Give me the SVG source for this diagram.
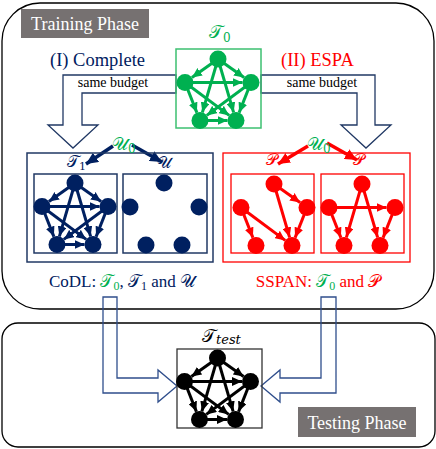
<svg xmlns="http://www.w3.org/2000/svg" width="436" height="449" viewBox="0 0 436 449">
<style>
text{font-family:"Liberation Serif","Times New Roman",serif}
.scr{font-family:"DejaVu Serif","DejaVu Sans","Noto Sans",serif}
.ge path{stroke:#00B050;stroke-width:3;fill:none;marker-end:url(#ag)}
.ne path{stroke:#002060;stroke-width:3;fill:none;marker-end:url(#an)}
.re path{stroke:#FF0000;stroke-width:3;fill:none;marker-end:url(#ar)}
.ke path{stroke:#000;stroke-width:3;fill:none;marker-end:url(#ak)}
.blk{fill:#fff;stroke:#203864;stroke-width:1.3}
.blk2{fill:none;stroke:#2F4E8C;stroke-width:1.3}
</style>
<defs>
<marker id="ag" markerUnits="userSpaceOnUse" markerWidth="10" markerHeight="9" refX="10" refY="4.5" orient="auto"><path d="M0,0L10,4.5L0,9z" fill="#00B050"/></marker>
<marker id="an" markerUnits="userSpaceOnUse" markerWidth="10" markerHeight="9" refX="10" refY="4.5" orient="auto"><path d="M0,0L10,4.5L0,9z" fill="#002060"/></marker>
<marker id="ar" markerUnits="userSpaceOnUse" markerWidth="10" markerHeight="9" refX="10" refY="4.5" orient="auto"><path d="M0,0L10,4.5L0,9z" fill="#FF0000"/></marker>
<marker id="ak" markerUnits="userSpaceOnUse" markerWidth="10" markerHeight="9" refX="10" refY="4.5" orient="auto"><path d="M0,0L10,4.5L0,9z" fill="#000"/></marker>
<marker id="an2" markerUnits="userSpaceOnUse" markerWidth="12" markerHeight="11" refX="12" refY="5.5" orient="auto"><path d="M0,0L12,5.5L0,11z" fill="#002060"/></marker>
<marker id="ar2" markerUnits="userSpaceOnUse" markerWidth="12" markerHeight="11" refX="12" refY="5.5" orient="auto"><path d="M0,0L12,5.5L0,11z" fill="#FF0000"/></marker>
</defs>

<!-- phase frames -->
<g id="training-phase">
<rect x="2" y="3" width="432" height="306" rx="38" fill="none" stroke="#000" stroke-width="1.3"/>
<rect x="21" y="9" width="128" height="29" fill="#767171"/>
<text x="85" y="30" font-size="18" fill="#fff" text-anchor="middle">Training Phase</text>
</g>
<g id="testing-phase">
<rect x="2" y="323" width="433" height="124" rx="16" fill="none" stroke="#000" stroke-width="1.3"/>
<rect x="298" y="407" width="118" height="30" fill="#767171"/>
<text x="357" y="429" font-size="18" fill="#fff" text-anchor="middle">Testing Phase</text>
</g>

<!-- connectors -->
<g id="connectors">
<path class="blk" d="M176,75L63,75L63,125L48,125L73,148L98,125L82,125L82,93L176,93Z"/>
<path class="blk" d="M261,75L375,75L375,125L391,125L366,148L341,125L357,125L357,93L261,93Z"/>
<path class="blk2" d="M103,297L117,297L117,378L158,378L158,370L177,386L158,402L158,393L103,393Z"/>
<path class="blk2" d="M336,297L321,297L321,378L280,378L280,370L261,386L280,402L280,393L336,393Z"/>
<line x1="113" y1="146" x2="86" y2="164" stroke="#002060" stroke-width="3.5" marker-end="url(#an2)"/>
<line x1="132" y1="145" x2="162" y2="162" stroke="#002060" stroke-width="3.5" marker-end="url(#an2)"/>
<line x1="308" y1="146" x2="278" y2="164" stroke="#FF0000" stroke-width="3.5" marker-end="url(#ar2)"/>
<line x1="327" y1="143" x2="357" y2="160" stroke="#FF0000" stroke-width="3.5" marker-end="url(#ar2)"/>
</g>
<text x="113" y="87" font-size="14" text-anchor="middle">same budget</text>
<text x="322" y="87" font-size="14" text-anchor="middle">same budget</text>
<text x="50" y="66" font-size="18.5" fill="#002060">(I) Complete</text>
<text x="281" y="66" font-size="18.5" fill="#FF0000">(II) ESPA</text>

<!-- T0 graph -->
<g id="T0">
<rect x="176" y="49" width="85" height="79" fill="none" stroke="#3CC070" stroke-width="1.5"/>
<text x="209" y="38" font-size="18" fill="#00B050" class="scr">𝒯<tspan font-size="12" dy="4">0</tspan></text>
<g transform="translate(218,59)">
<g class="ge">
<path d="M0,0L-26.08,18.57"/><path d="M0,0L26.08,18.57"/><path d="M-33,23.5L24.5,23.5"/><path d="M-33,23.5L-21.12,53.59"/><path d="M33,23.5L21.12,53.59"/><path d="M-18,61.5L9.5,61.5"/><path d="M0,0L-15.61,53.34"/><path d="M0,0L15.61,53.34"/><path d="M-33,23.5L11.18,56.42"/><path d="M33,23.5L-11.18,56.42"/>
</g>
<g fill="#00B050"><circle cx="0" cy="0" r="8.5"/><circle cx="-33" cy="23.5" r="8.5"/><circle cx="33" cy="23.5" r="8.5"/><circle cx="-18" cy="61.5" r="8.5"/><circle cx="18" cy="61.5" r="8.5"/></g>
</g>
</g>

<!-- CoDL panel -->
<g id="codl">
<rect x="27" y="153" width="186" height="109" fill="none" stroke="#203864" stroke-width="1.5"/>
<rect x="34" y="174" width="83" height="79" fill="none" stroke="#203864" stroke-width="1.5"/>
<rect x="123" y="174" width="84" height="79" fill="none" stroke="#203864" stroke-width="1.5"/>
<text x="112" y="150" font-size="18" fill="#00B050" class="scr">𝒰<tspan font-size="12" dy="3">0</tspan></text>
<text x="67" y="167" font-size="16" fill="#002060" class="scr">𝒯<tspan font-size="11" dy="3">1</tspan></text>
<text x="157" y="168" font-size="16" fill="#002060" class="scr">𝒰</text>
<g transform="translate(75,183)">
<g class="ne">
<path d="M0,0L-26.08,18.57"/><path d="M0,0L26.08,18.57"/><path d="M-33,23.5L24.5,23.5"/><path d="M-33,23.5L-21.12,53.59"/><path d="M33,23.5L21.12,53.59"/><path d="M-18,61.5L9.5,61.5"/><path d="M0,0L-15.61,53.34"/><path d="M0,0L15.61,53.34"/><path d="M-33,23.5L11.18,56.42"/><path d="M33,23.5L-11.18,56.42"/>
</g>
<g fill="#002060"><circle cx="0" cy="0" r="8.5"/><circle cx="-33" cy="23.5" r="8.5"/><circle cx="33" cy="23.5" r="8.5"/><circle cx="-18" cy="61.5" r="8.5"/><circle cx="18" cy="61.5" r="8.5"/></g>
</g>
<g transform="translate(164,183)" fill="#002060"><circle cx="0" cy="0" r="8.5"/><circle cx="-34" cy="24" r="8.5"/><circle cx="35" cy="24" r="8.5"/><circle cx="-18" cy="62" r="8.5"/><circle cx="18" cy="62" r="8.5"/></g>
<text x="122" y="287" font-size="17" fill="#002060" text-anchor="middle">CoDL: <tspan fill="#00B050" class="scr">𝒯</tspan><tspan fill="#00B050" font-size="12" dy="3">0</tspan><tspan dy="-3">, </tspan><tspan class="scr">𝒯</tspan><tspan font-size="12" dy="3">1</tspan><tspan dy="-3"> and </tspan><tspan class="scr">𝒰</tspan></text>
</g>

<!-- SSPAN panel -->
<g id="sspan">
<rect x="223" y="153" width="187" height="109" fill="none" stroke="#FF0000" stroke-width="1.3"/>
<rect x="231" y="174" width="83" height="79" fill="none" stroke="#FF0000" stroke-width="1.3"/>
<rect x="321" y="174" width="83" height="79" fill="none" stroke="#FF0000" stroke-width="1.3"/>
<text x="307" y="150" font-size="18" fill="#00B050" class="scr">𝒰<tspan font-size="12" dy="3">0</tspan></text>
<text x="266" y="165" font-size="16" fill="#FF0000" class="scr">𝒫</text>
<text x="353" y="165" font-size="16" fill="#FF0000" class="scr">𝒫</text>
<g transform="translate(274,184)">
<g class="re">
<path d="M0,0L26.08,18.57"/><path d="M0,0L15.61,53.34"/><path d="M-33,23.5L-21.12,53.59"/><path d="M-33,23.5L11.18,56.42"/><path d="M33,23.5L21.12,53.59"/>
</g>
<g fill="#FF0000"><circle cx="0" cy="0" r="8.5"/><circle cx="-33" cy="23.5" r="8.5"/><circle cx="33" cy="23.5" r="8.5"/><circle cx="-18" cy="61.5" r="8.5"/><circle cx="18" cy="61.5" r="8.5"/></g>
</g>
<g transform="translate(362,184)">
<g class="re">
<path d="M-33,23.5L24.5,23.5"/><path d="M-33,23.5L-21.12,53.59"/><path d="M33,23.5L21.12,53.59"/><path d="M0,0L-15.61,53.34"/><path d="M0,0L15.61,53.34"/>
</g>
<g fill="#FF0000"><circle cx="0" cy="0" r="8.5"/><circle cx="-33" cy="23.5" r="8.5"/><circle cx="33" cy="23.5" r="8.5"/><circle cx="-18" cy="61.5" r="8.5"/><circle cx="18" cy="61.5" r="8.5"/></g>
</g>
<text x="318" y="287" font-size="17" fill="#FF0000" text-anchor="middle">SSPAN: <tspan fill="#00B050" class="scr">𝒯</tspan><tspan fill="#00B050" font-size="12" dy="3">0</tspan><tspan dy="-3"> and </tspan><tspan class="scr">𝒫</tspan></text>
</g>

<!-- T_test graph -->
<g id="Ttest">
<rect x="177" y="349" width="85" height="79" fill="none" stroke="#333" stroke-width="1.3"/>
<text x="202" y="342" font-size="18" class="scr">𝒯<tspan font-size="13" dy="2" font-family="DejaVu Serif" font-style="italic">test</tspan></text>
<g transform="translate(217.5,358)">
<g class="ke">
<path d="M0,0L-26.08,18.57"/><path d="M0,0L26.08,18.57"/><path d="M-33,23.5L24.5,23.5"/><path d="M-33,23.5L-21.12,53.59"/><path d="M33,23.5L21.12,53.59"/><path d="M-18,61.5L9.5,61.5"/><path d="M0,0L-15.61,53.34"/><path d="M0,0L15.61,53.34"/><path d="M-33,23.5L11.18,56.42"/><path d="M33,23.5L-11.18,56.42"/>
</g>
<g fill="#000"><circle cx="0" cy="0" r="8.5"/><circle cx="-33" cy="23.5" r="8.5"/><circle cx="33" cy="23.5" r="8.5"/><circle cx="-18" cy="61.5" r="8.5"/><circle cx="18" cy="61.5" r="8.5"/></g>
</g>
</g>
</svg>
